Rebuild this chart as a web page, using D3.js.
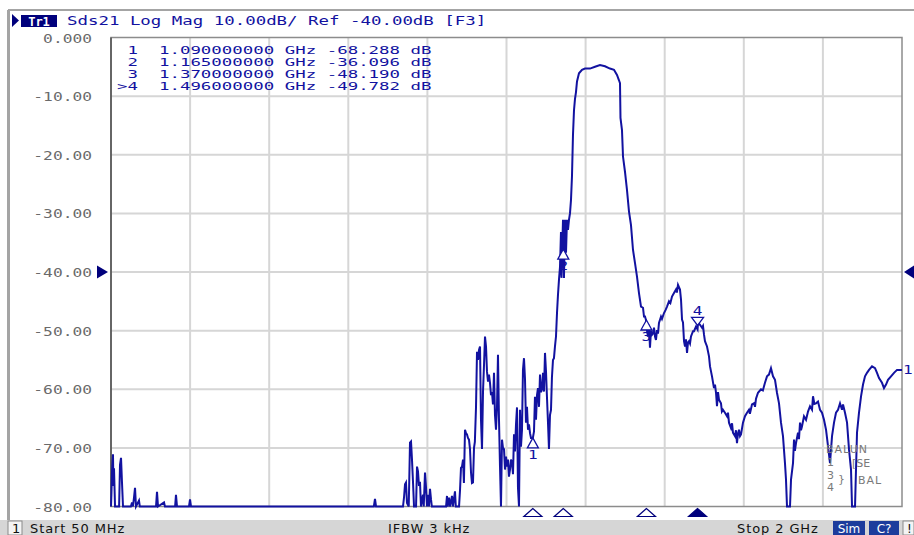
<!DOCTYPE html>
<html>
<head>
<meta charset="utf-8">
<script src="https://cdn.jsdelivr.net/npm/d3@7"></script>
<style>
body { margin: 0; background: #fff; }
svg { display: block; }
</style>
</head>
<body>
<div id="chart"></div>
<script>
// header / stimulus text
var traceName   = "Tr1";
var traceTitle  = "Sds21 Log Mag 10.00dB/ Ref -40.00dB [F3]";
var startLabel  = "Start 50 MHz";
var ifbwLabel   = "IFBW 3 kHz";
var stopLabel   = "Stop 2 GHz";

// axes
var startMHz    = 50;
var stopMHz     = 2000;
var xGridMHz    = [50, 245, 440, 635, 830, 1025, 1220, 1415, 1610, 1805, 2000];
var yTickValues = [0, -10, -20, -30, -40, -50, -60, -70, -80];
var yTickLabels = ["0.000", "-10.00", "-20.00", "-30.00", "-40.00", "-50.00", "-60.00", "-70.00", "-80.00"];
var refLevelDb  = -40;

// markers
var markerIds   = ["1", "2", "3", ">4"];
var markerMHz   = [1090, 1165, 1370, 1496];
var markerDb    = [-68.288, -36.096, -48.190, -49.782];
var activeMarker = 3;

// trace, [MHz, dB] (values at -80 sit on the bottom edge)
var trace = [
    [50,-80],[51,-78],[52.5,-74],[54.9,-71.1],[56,-76.5],[57.4,-73.5],[59.9,-80],
    [70,-80],[72.2,-72.9],[74.7,-71.7],[77.1,-75.9],[79.6,-80],
    [99,-80],[101.8,-79.3],[104,-80],[106.7,-78.5],[109.2,-76.8],[111.6,-80],[119,-79],[121,-80],
    [161,-80],[163.4,-77.5],[165.9,-80],[180.7,-79.3],[183,-80],
    [208,-80],[210.2,-78],[212.7,-80],[242.3,-80],[244.8,-78.8],[247.2,-80],
    [698,-80],[700.8,-78.7],[703.3,-80],
    [769.8,-80],[772.3,-78.5],[774.8,-76.2],[777.2,-75.9],[779.7,-79.4],[784,-80],
    [787.1,-69.1],[789.6,-68.9],[792,-72],[794.5,-75.8],[797,-80],[802,-80],
    [804.4,-73.2],[806.8,-74],[809.3,-76.5],[811.7,-75.8],[814.2,-80],[819.1,-78],[821,-80],
    [824.1,-74.2],[826.5,-76.6],[829,-80],[831.5,-78],[834,-80],[836.4,-77],[838.9,-78.8],[841,-80],
    [876,-80],[878.3,-78.2],[880,-80],[883.2,-78.5],[886,-80],[890.6,-78.2],[893,-80],[898,-77.4],[900,-80],[908,-80],
    [910.4,-77.2],[912.8,-73.4],[915.3,-73.2],[917.8,-72],[920,-76],[922.7,-66.9],[925.2,-67.5],[927.6,-67.7],
    [930,-68.3],[932.5,-68.6],[935,-70.2],[937.5,-74.2],[939.9,-76],[942.4,-75.9],[944.9,-70],[947,-69],
    [949.8,-63.1],[952.3,-53.6],[954.7,-55],[957.2,-53.3],[959.7,-52.7],[962.1,-65.2],[964.6,-70.2],[967.1,-60.4],
    [969.5,-56],[972,-51],[974.5,-52.7],[976.9,-57],[979.4,-58.7],[981.8,-57.5],[984.3,-58.9],[986.8,-61],
    [989.2,-60.5],[991.7,-62.6],[994.2,-57.2],[996.6,-64.4],[999.1,-66.9],[1001.6,-63],[1004,-54.1],[1006.5,-65.2],
    [1009,-73.2],[1011.4,-80],[1013.9,-68.6],[1016.3,-70],[1018.8,-70.2],[1021.3,-73.7],[1023.8,-71.5],[1026.2,-73.2],
    [1028.7,-72],[1031.1,-74.9],[1033.6,-73.7],[1036.1,-72],[1038.5,-72.5],[1041,-74.5],[1043.5,-67.7],[1045.9,-70.6],
    [1048.4,-66],[1050.9,-63.1],[1053.3,-76.8],[1055.8,-80],[1058.3,-63.5],[1060.7,-69.8],[1063.2,-66.9],[1065.6,-56.7],
    [1068.1,-54.7],[1070.6,-58.3],[1073,-65.7],[1075.5,-63],[1078,-66.9],[1080.4,-66],[1083,-67.5],[1085.4,-68.3],
    [1090,-68.3],[1092.8,-67.2],[1095.2,-61.3],[1097.7,-65.2],[1100.2,-61],[1102.6,-59.8],[1105.1,-63],[1107.6,-57.5],
    [1110,-60.5],[1112.5,-60],[1115,-57.2],[1117.4,-60.4],[1119.9,-53.8],[1122.4,-57],[1124.8,-61.4],[1127.3,-65.7],
    [1129.7,-70.2],[1132.2,-64.4],[1134.7,-63.5],[1137,-58],[1139.6,-55],[1142,-54.7],[1144.5,-52.7],[1147,-51],
    [1149.5,-47],[1151.9,-43.9],[1154.4,-41.3],[1156.9,-39.1],[1159.3,-33.2],[1160.5,-41],[1161.8,-37.4],[1164.3,-31.1],
    [1165,-36.1],[1166.7,-41],[1169.2,-31.1],[1171.7,-36.7],[1174.1,-31.1],[1176.6,-32.8],[1179,-31.1],[1181.5,-30],
    [1184,-27.7],[1186.4,-23.7],[1188.9,-16.6],[1191.4,-12.4],[1193.8,-10.5],[1196.3,-9.3],[1198.8,-7.5],[1203.7,-6.1],
    [1211.1,-5.5],[1218.5,-5.3],[1230.8,-5.3],[1243.2,-5],[1255.5,-4.7],[1267.8,-4.9],[1280.1,-5.3],[1290,-5.5],
    [1297.4,-6.4],[1302.3,-7.3],[1304.8,-7.8],[1306,-13.7],[1309.7,-15.8],[1312.2,-20.3],[1317.1,-22.9],[1322,-26],
    [1327,-29.7],[1331.9,-32],[1336.8,-36.2],[1341.8,-38.5],[1346.7,-40.8],[1351.6,-43.6],[1356.6,-45.9],[1361.5,-46.1],
    [1364,-47.6],[1366.4,-47.6],[1368.9,-48.2],[1371.3,-50],[1373.8,-51],[1376.3,-49],[1378.7,-52.9],[1381.2,-50],
    [1383.7,-50.7],[1386.1,-50.5],[1388.6,-49.5],[1391.1,-51],[1393.5,-51.6],[1396,-49.9],[1398.5,-50.5],[1400.9,-48.7],
    [1405.9,-47.6],[1408.3,-48],[1413.3,-47],[1417,-46.5],[1420.7,-45.9],[1425.6,-45],[1429,-45.3],[1433,-44.2],
    [1437.9,-43.6],[1442.8,-43],[1445,-43.5],[1447.8,-42.2],[1452.7,-43],[1455.2,-44.7],[1457.7,-48.1],[1460.1,-48.6],
    [1462.6,-51.8],[1465.1,-52.7],[1467.5,-51.5],[1470,-53.8],[1472.5,-52],[1474.9,-51.8],[1477.4,-52.2],[1479.8,-51],
    [1484.8,-50.1],[1487.2,-50.1],[1492.2,-49.3],[1496,-49.8],[1497.1,-48.6],[1502,-49],[1506.9,-49.5],[1509.4,-49.2],
    [1511.9,-50.7],[1514.3,-51.8],[1519.3,-52.7],[1524.2,-54.4],[1526.7,-56.1],[1531.6,-57.8],[1536.5,-59.8],[1539,-59.2],
    [1541.5,-60.6],[1543.9,-62.9],[1546.4,-60.5],[1548.9,-61.8],[1553.8,-62.4],[1556,-63.8],[1558.7,-63.5],[1563.6,-64],
    [1568.6,-64.6],[1571,-64],[1573.5,-65.7],[1578.4,-66.6],[1581,-65.8],[1583.3,-67.4],[1588.3,-68],[1590.7,-67],
    [1593.2,-69.2],[1595.6,-67.6],[1598.1,-66.9],[1600.6,-68],[1603.1,-67.7],[1608,-65.7],[1612.9,-64.6],[1617.9,-64],
    [1622.8,-63.5],[1625,-64.2],[1630.2,-62.6],[1635.1,-62.4],[1637.6,-63],[1640.1,-61.6],[1645,-60.6],[1652.4,-60],
    [1657,-60.2],[1662.2,-58.9],[1667.2,-57.8],[1672,-57.5],[1677,-56.4],[1682,-57.8],[1686.9,-58.4],[1691.8,-60.6],
    [1696.8,-62.4],[1701.7,-65.7],[1706.6,-68],[1711.5,-72.6],[1714,-75.4],[1716.5,-80],[1719,-81],[1723.9,-80],
    [1726.4,-75.4],[1731.3,-72.6],[1733.8,-68.6],[1736,-70.5],[1738.7,-69.2],[1743.6,-67.4],[1746,-68.5],[1748.6,-65.7],
    [1751,-67],[1753.5,-66.3],[1758.4,-64.6],[1763.4,-65.2],[1768.3,-63.8],[1773.2,-62.9],[1778.2,-63.5],[1780.6,-61.2],
    [1784,-62.5],[1788,-62.4],[1792.9,-62.1],[1797.9,-63.5],[1802.8,-64],[1807.7,-65.2],[1812.7,-66.9],[1817.6,-69.7],
    [1822.5,-72.6],[1827.5,-68],[1832.4,-65.7],[1837.3,-64],[1842.3,-63.5],[1847.2,-62.4],[1852.1,-63.5],[1854.6,-62.6],
    [1859.5,-64],[1864.5,-65.7],[1869.4,-70.3],[1874.3,-73.7],[1876.8,-80],[1879.3,-81],[1884.2,-80],[1886.6,-73.7],
    [1889.1,-67.4],[1894,-64],[1899,-61.2],[1903.9,-59.2],[1908.8,-57.8],[1913.7,-57.2],[1918.7,-56.7],[1926.1,-56.1],
    [1933.5,-56.4],[1938.4,-57.2],[1943.3,-58.1],[1950.7,-58.9],[1955.6,-59.8],[1960.6,-59.2],[1965.5,-58.4],[1972.9,-57.8],
    [1980.3,-57.2],[1987.7,-56.7],[2000,-56.7]
];

var blue  = "#1212a0";
var navy  = "#00007c";
var mono  = "DejaVu Sans Mono";
var sx    = 1.34;   // the analyzer font is wider than DejaVu Mono

var width = 914, height = 535;
var plot = {left: 111, top: 37.5, right: 902, bottom: 506.5};

var x = d3.scaleLinear().domain([startMHz, stopMHz]).range([plot.left, plot.right]);
var y = d3.scaleLinear().domain([-80, 0]).range([plot.bottom, plot.top]);

var svg = d3.select("#chart").append("svg")
    .attr("width", width)
    .attr("height", height)
    .style("background", "#fff");

// wide text helper
function wideText(parent, px, py, str, anchor, color, size, stretch)
{
    return parent.append("text")
        .attr("transform", "translate(" + px + "," + py + ") scale(" + (stretch || sx) + ",1)")
        .attr("text-anchor", anchor || "start")
        .attr("font-family", mono)
        .attr("font-size", size || 13)
        .attr("fill", color || blue)
        .attr("xml:space", "preserve")
        .style("white-space", "pre")
        .text(str);
}

// window frame
svg.append("line").attr("x1", 8).attr("x2", width).attr("y1", 10).attr("y2", 10)
    .attr("stroke", "#a4a4a4").attr("stroke-width", 2);
svg.append("line").attr("x1", 8.5).attr("x2", 8.5).attr("y1", 10).attr("y2", 521)
    .attr("stroke", "#a4a4a4").attr("stroke-width", 3);

// header
svg.append("path").attr("d", "M12,14 L19,20.5 L12,27 Z").attr("fill", navy);
svg.append("rect").attr("x", 21).attr("y", 15).attr("width", 36).attr("height", 12).attr("fill", navy);
svg.append("text").attr("x", 39).attr("y", 25.5).attr("text-anchor", "middle")
    .attr("font-family", mono).attr("font-weight", "bold").attr("font-size", 12)
    .attr("fill", "#fff").text(traceName);
wideText(svg, 67, 25, traceTitle);

// grid
var grid = svg.append("g");
grid.selectAll(".vgrid")
    .data(xGridMHz.slice(1, -1))
    .enter()
    .append("line")
    .attr("x1", function (d) { return x(d); })
    .attr("x2", function (d) { return x(d); })
    .attr("y1", plot.top).attr("y2", plot.bottom)
    .attr("stroke", "#d6d6d6").attr("stroke-width", 2);
grid.selectAll(".hgrid")
    .data(yTickValues.slice(1, -1))
    .enter()
    .append("line")
    .attr("x1", plot.left).attr("x2", plot.right)
    .attr("y1", function (d) { return y(d); })
    .attr("y2", function (d) { return y(d); })
    .attr("stroke", "#d6d6d6").attr("stroke-width", 2);

// plot frame
svg.append("rect")
    .attr("x", plot.left).attr("y", plot.top)
    .attr("width", plot.right - plot.left).attr("height", plot.bottom - plot.top)
    .attr("fill", "none").attr("stroke", "#8c8c8c").attr("stroke-width", 1.5);
svg.append("line").attr("x1", plot.left).attr("x2", plot.left).attr("y1", plot.top).attr("y2", plot.bottom)
    .attr("stroke", "#505050").attr("stroke-width", 1.5);

// y axis labels
var yAxis = svg.append("g")
    .attr("transform", "translate(" + plot.left + ",0)")
    .call(d3.axisLeft(y)
        .tickValues(yTickValues)
        .tickSize(0)
        .tickFormat(function (d, i) { return yTickLabels[i]; }));
yAxis.select(".domain").remove();
yAxis.selectAll("text")
    .attr("x", 0)
    .attr("dy", "0.36em")
    .attr("transform", "translate(-19,0) scale(1.3,1)")
    .attr("font-family", mono)
    .attr("font-size", 12.5)
    .attr("fill", "#6a6a6a");

// reference level arrows
var yRef = y(refLevelDb);
svg.append("path").attr("d", "M97," + (yRef - 6.5) + " L108," + yRef + " L97," + (yRef + 6.5) + " Z").attr("fill", navy);
svg.append("path").attr("d", "M914," + (yRef - 6.5) + " L904," + yRef + " L914," + (yRef + 6.5) + " Z").attr("fill", navy);

// trace
var line = d3.line()
    .x(function (d) { return x(d[0]); })
    .y(function (d) { return y(Math.max(-80, Math.min(0, d[1]))); });

svg.append("path")
    .datum(trace)
    .attr("d", line)
    .attr("fill", "none")
    .attr("stroke", blue)
    .attr("stroke-width", 2)
    .attr("stroke-linejoin", "miter");

// trace number at the right end
var last = trace[trace.length - 1];
wideText(svg, 903, y(last[1]) + 4, "1", "start", blue, 12);

// markers on the trace
markerMHz.forEach(function (f, i) {
    var mx = x(f), my = y(markerDb[i]);
    var id = markerIds[i].replace(">", "");
    if (i === activeMarker) {
        svg.append("path")
            .attr("d", "M" + (mx - 6) + "," + (my - 12) + " L" + (mx + 6) + "," + (my - 12) + " L" + mx + "," + (my - 4) + " Z")
            .attr("fill", "#fff").attr("stroke", blue).attr("stroke-width", 1.3);
        wideText(svg, mx, my - 14, id, "middle", blue, 12);
    } else {
        svg.append("path")
            .attr("d", "M" + mx + "," + my + " L" + (mx - 5.5) + "," + (my + 10) + " L" + (mx + 5.5) + "," + (my + 10) + " Z")
            .attr("fill", "#fff").attr("stroke", blue).attr("stroke-width", 1.3);
        wideText(svg, mx, my + 21, id, "middle", blue, 12);
    }
});

// marker triangles under the grid
markerMHz.forEach(function (f, i) {
    var mx = x(f);
    svg.append("path")
        .attr("d", "M" + mx + ",508.5 L" + (mx - 9) + ",516.5 L" + (mx + 9) + ",516.5 Z")
        .attr("fill", i === activeMarker ? navy : "#fff")
        .attr("stroke", navy).attr("stroke-width", 1.2);
});

// marker table: one fixed-pitch line per marker (smaller font so the lines don't collide)
markerIds.forEach(function (id, i) {
    var row = (id.length < 2 ? " " + id : id) + "  " +
        (markerMHz[i] / 1000).toFixed(9) + " GHz " +
        markerDb[i].toFixed(3) + " dB";
    wideText(svg, 117, 53.5 + i * 12.2, row, "start", blue, 10.5, 1.66);
});

// balun topology note
var note = svg.append("g").attr("fill", "#7a7a7a").attr("font-family", "DejaVu Sans").attr("font-size", 11);
note.append("text").attr("x", 826).attr("y", 453).attr("letter-spacing", 1).text("BALUN");
note.append("text").attr("x", 827).attr("y", 466).text("1");
note.append("text").attr("x", 852).attr("y", 467).text("[SE");
note.append("text").attr("x", 827).attr("y", 479).text("3");
note.append("text").attr("x", 838).attr("y", 483).text("}");
note.append("text").attr("x", 858).attr("y", 484).attr("letter-spacing", 1).text("BAL");
note.append("text").attr("x", 827).attr("y", 491).text("4");

// status bar
var bar = svg.append("g").attr("transform", "translate(0,520)");
bar.append("rect").attr("x", 0).attr("y", 0).attr("width", width).attr("height", 15).attr("fill", "#d6d6d6");
bar.append("rect").attr("x", 8).attr("y", 1).attr("width", 14).attr("height", 14)
    .attr("fill", "#f4f4f4").attr("stroke", "#8a8a8a");
var barText = bar.append("g").attr("font-family", "DejaVu Sans").attr("font-size", 13)
    .attr("letter-spacing", 0.9).attr("fill", "#111");
barText.append("text").attr("x", 12).attr("y", 13).text("1");
barText.append("text").attr("x", 30).attr("y", 13).text(startLabel);
barText.append("text").attr("x", 388).attr("y", 13).text(ifbwLabel);
barText.append("text").attr("x", 737).attr("y", 13).text(stopLabel);
bar.append("rect").attr("x", 833).attr("y", 1).attr("width", 32).attr("height", 14).attr("fill", "#1c3c9c");
bar.append("text").attr("x", 849).attr("y", 13).attr("text-anchor", "middle")
    .attr("font-family", "DejaVu Sans").attr("font-size", 12).attr("fill", "#fff").text("Sim");
bar.append("rect").attr("x", 869).attr("y", 1).attr("width", 30).attr("height", 14).attr("fill", "#1c3c9c");
bar.append("text").attr("x", 884).attr("y", 13).attr("text-anchor", "middle")
    .attr("font-family", "DejaVu Sans").attr("font-size", 12).attr("fill", "#fff").text("C?");
bar.append("rect").attr("x", 903).attr("y", 1).attr("width", 11).attr("height", 14)
    .attr("fill", "#f4f4f4").attr("stroke", "#8a8a8a");
bar.append("text").attr("x", 907).attr("y", 13)
    .attr("font-family", "DejaVu Sans").attr("font-size", 12).attr("fill", "#111").text("!");
</script>
</body>
</html>
